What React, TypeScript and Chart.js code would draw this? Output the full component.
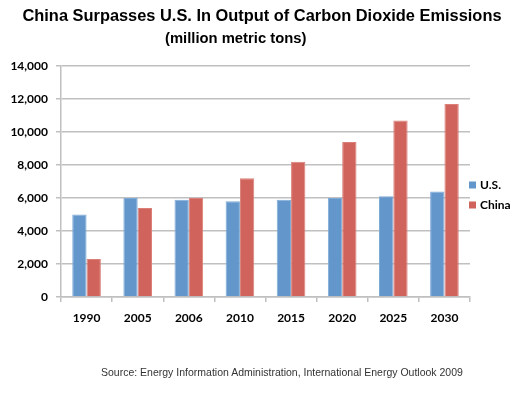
import React, { useEffect, useRef } from "react";
import { Chart, registerables } from "chart.js";

Chart.register(...registerables);

const categories = ["1990", "2005", "2006", "2010", "2015", "2020", "2025", "2030"];
const usValues = [5000, 6000, 5900, 5800, 5900, 6000, 6100, 6400];
const chinaValues = [2300, 5400, 6000, 7200, 8200, 9400, 10700, 11700];
const seriesLabels = ["U.S.", "China"];
const titleText = "China Surpasses U.S. In Output of Carbon Dioxide Emissions";
const subtitleText = "(million metric tons)";
const sourceText = "Source: Energy Information Administration, International Energy Outlook 2009";

const BLUE = "#6397CC";
const RED = "#D0645C";
const GRID = "#C0C0C0";
const TICK_FONT = { family: "Lato, 'DejaVu Sans', sans-serif", size: 12, weight: "bold" as const };

const sideLegend = {
  id: "sideLegend",
  afterDraw(chart: any) {
    const { ctx, chartArea } = chart;
    const mid = (chartArea.top + chartArea.bottom) / 2;
    ctx.save();
    ctx.font = `bold 12px Lato, 'DejaVu Sans', sans-serif`;
    ctx.textBaseline = "middle";
    ctx.textAlign = "left";
    chart.data.datasets.forEach((ds: any, i: number) => {
      const y = mid + 4 + i * 20;
      const x = chartArea.right - 1;
      ctx.fillStyle = ds.backgroundColor;
      ctx.fillRect(x, y - 4, 7, 7);
      ctx.fillStyle = "#000";
      ctx.fillText(ds.label, x + 11, y);
    });
    ctx.restore();
  },
};

export default function App() {
  const ref = useRef<HTMLCanvasElement | null>(null);
  useEffect(() => {
    document.body.style.margin = "0";
    if (!ref.current) return;
    const chart = new Chart(ref.current, {
      type: "bar",
      data: {
        labels: categories,
        datasets: [
          {
            label: seriesLabels[0],
            data: usValues,
            backgroundColor: BLUE,
            borderColor: "#7FAAD6",
            borderWidth: 1,
            categoryPercentage: 0.56,
            barPercentage: 1,
          },
          {
            label: seriesLabels[1],
            data: chinaValues,
            backgroundColor: RED,
            borderColor: "#DA8079",
            borderWidth: 1,
            categoryPercentage: 0.56,
            barPercentage: 1,
          },
        ],
      },
      options: {
        animation: false,
        responsive: false,
        layout: { padding: { top: 66, right: 56, bottom: 0, left: 0 } },
        plugins: {
          legend: { display: false },
          title: { display: false },
          tooltip: { enabled: false },
        },
        scales: {
          x: {
            afterFit(scale: any) {
              scale.height = 96;
            },
            grid: {
              offset: true,
              drawOnChartArea: false,
              drawTicks: true,
              tickLength: 5,
              color: GRID,
              lineWidth: 1.5,
            },
            border: { color: GRID, width: 1.5 },
            ticks: { color: "#000", font: TICK_FONT, padding: 9 },
          },
          y: {
            min: 0,
            max: 14000,
            afterFit(scale: any) {
              scale.width = 61;
            },
            grid: {
              color: GRID,
              lineWidth: 1.5,
              drawTicks: true,
              tickLength: 5,
            },
            border: { color: GRID, width: 1.5 },
            ticks: {
              stepSize: 2000,
              color: "#000",
              font: TICK_FONT,
              padding: 8,
              callback: (v: any) => Number(v).toLocaleString("en-US"),
            },
          },
        },
      },
      plugins: [sideLegend],
    });
    return () => chart.destroy();
  }, []);

  return (
    <div style={{ position: "relative", width: 526, height: 393, background: "#fff", fontFamily: "'Liberation Sans', Arial, sans-serif" }}>
      <canvas ref={ref} width={526} height={393} style={{ position: "absolute", left: 0, top: 0 }} />
      <div style={{ position: "absolute", left: 0, top: 4, width: 524, textAlign: "center", fontWeight: "bold", fontSize: 16.4, lineHeight: "22px", color: "#000", whiteSpace: "nowrap" }}>
        {titleText}
      </div>
      <div style={{ position: "absolute", left: 165, top: 28, fontWeight: "bold", fontSize: 14.8, lineHeight: "20px", color: "#000", whiteSpace: "nowrap" }}>
        {subtitleText}
      </div>
      <div style={{ position: "absolute", left: 101, top: 365, fontSize: 10.5, lineHeight: "14px", color: "#333", whiteSpace: "nowrap" }}>
        {sourceText}
      </div>
    </div>
  );
}
